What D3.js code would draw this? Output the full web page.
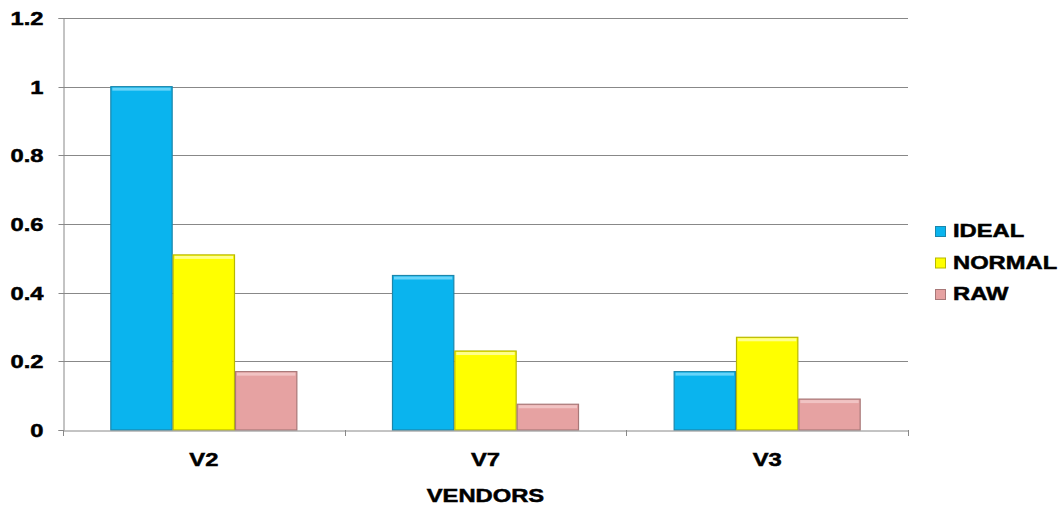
<!DOCTYPE html>
<html>
<head>
<meta charset="utf-8">
<script src="https://cdn.jsdelivr.net/npm/d3@7"></script>
<style>
  html, body { margin: 0; padding: 0; background: #fff; }
  svg { display: block; font-family: Arial, "Liberation Sans", sans-serif; }
  svg text { stroke: #000; stroke-width: 0.5px; }
</style>
</head>
<body>
<svg id="chart" width="1062" height="506"></svg>
<script>
const categories = ["V2", "V7", "V3"];
const seriesNames = ["IDEAL", "NORMAL", "RAW"];
const idealValues = [1.0, 0.45, 0.17];
const normalValues = [0.51, 0.23, 0.27];
const rawValues = [0.17, 0.075, 0.09];
const yTicks = [0, 0.2, 0.4, 0.6, 0.8, 1, 1.2];
const xAxisTitle = "VENDORS";

const seriesValues = [idealValues, normalValues, rawValues];
const fills = ["#0ab4ee", "#ffff00", "#e6a2a2"];
const strokes = ["#1b86ab", "#b8b800", "#a87878"];
const highlights = ["#7fdcfb", "#ffffb0", "#f4cccc"];
const STRETCH = 1.25;

const svg = d3.select("#chart");
const m = { left: 63, right: 908, top: 18, bottom: 430 };

function stretch(sel) {
  sel.each(function() {
    const t = d3.select(this);
    const x = +t.attr("x") || 0;
    t.attr("transform", `translate(${x},0) scale(${STRETCH},1) translate(${-x},0)`);
  });
}

const x0 = d3.scaleBand().domain(categories).range([m.left, m.right])
  .paddingInner(0.336).paddingOuter(0.168);
const x1 = d3.scaleBand().domain(seriesNames).range([0, x0.bandwidth()]).padding(0);
const y = d3.scaleLinear().domain([0, 1.2]).range([m.bottom, m.top]);

// gridlines
svg.append("g").selectAll("line").data(yTicks.filter(d => d > 0)).join("line")
  .attr("x1", m.left).attr("x2", m.right)
  .attr("y1", d => Math.round(y(d)) + 0.5).attr("y2", d => Math.round(y(d)) + 0.5)
  .attr("stroke", "#888888").attr("stroke-width", 1);

// y axis
const yAxis = d3.axisLeft(y).tickValues(yTicks).tickSize(5).tickPadding(15)
  .tickFormat(d => d3.format("~g")(d));
const gy = svg.append("g").attr("transform", `translate(${m.left + 0.5},0)`).call(yAxis);
gy.select(".domain").attr("stroke", "#888888");
gy.selectAll(".tick line").attr("stroke", "#888888");
gy.selectAll(".tick").attr("transform", d => `translate(0,${Math.round(y(d)) + 0.5})`);
gy.selectAll("text").attr("font-size", 19).attr("font-weight", "bold")
  .attr("fill", "#000").attr("font-family", "Arial, 'Liberation Sans', sans-serif")
  .call(stretch);

// bars
const groups = svg.append("g").selectAll("g").data(categories).join("g")
  .attr("transform", c => `translate(${x0(c)},0)`);
groups.each(function(c, ci) {
  const g = d3.select(this);
  seriesNames.forEach((s, si) => {
    const v = seriesValues[si][ci];
    const bx = x1(s), by = y(v), bw = x1.bandwidth(), bh = y(0) - y(v);
    g.append("rect").attr("x", bx + 0.5).attr("y", by).attr("width", bw - 1).attr("height", bh)
      .attr("fill", fills[si]).attr("stroke", strokes[si]).attr("stroke-width", 1.2);
    g.append("rect").attr("x", bx + 2).attr("y", by + 1).attr("width", bw - 4).attr("height", 3)
      .attr("fill", highlights[si]).attr("opacity", 0.8);
  });
});

// x axis
const xAxis = d3.axisBottom(x0).tickSize(0).tickPadding(22);
const gx = svg.append("g").attr("transform", `translate(0,${Math.round(y(0)) + 0.5})`).call(xAxis);
gx.select(".domain").attr("stroke", "#888888");
gx.selectAll("text").attr("font-size", 19).attr("font-weight", "bold")
  .attr("fill", "#000").attr("font-family", "Arial, 'Liberation Sans', sans-serif")
  .call(stretch);
// category boundary tick marks
const step = x0.step();
const bounds = d3.range(categories.length + 1).map(i => m.left + i * step);
svg.append("g").selectAll("line").data(bounds).join("line")
  .attr("x1", d => Math.round(d) + 0.5).attr("x2", d => Math.round(d) + 0.5)
  .attr("y1", Math.round(y(0))).attr("y2", Math.round(y(0)) + 6)
  .attr("stroke", "#888888");

// axis title
svg.append("text").attr("x", (m.left + m.right) / 2).attr("y", 502)
  .attr("text-anchor", "middle").attr("font-size", 19).attr("font-weight", "bold")
  .text(xAxisTitle).call(stretch);

// legend
const lg = svg.append("g").attr("transform", "translate(935,237)");
seriesNames.forEach((s, i) => {
  const row = lg.append("g").attr("transform", `translate(0,${i * 31.5})`);
  row.append("rect").attr("x", 0.5).attr("y", -10.5).attr("width", 10).attr("height", 10)
    .attr("fill", fills[i]).attr("stroke", strokes[i]).attr("stroke-width", 1);
  row.append("text").attr("x", 18).attr("y", 0).attr("font-size", 19).attr("font-weight", "bold")
    .text(s).call(stretch);
});
</script>
</body>
</html>
